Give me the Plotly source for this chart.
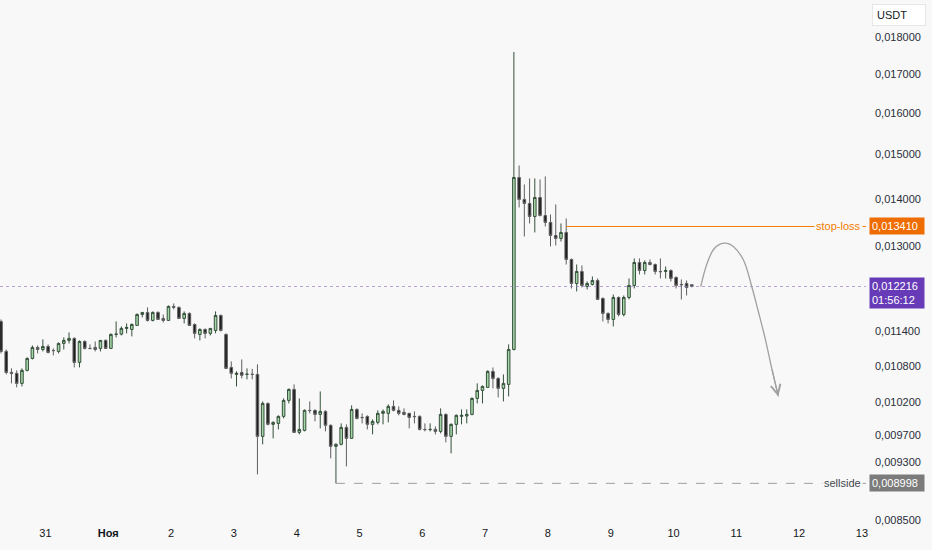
import math
import pandas as pd
import plotly.graph_objects as go

# 2h candles (USDT)
opens = [0.011571, 0.011044, 0.010690, 0.010674, 0.010509, 0.010724, 0.010925, 0.011113, 0.011078, 0.011130,
         0.011061, 0.011044, 0.011182, 0.011235, 0.011270, 0.010857, 0.011217, 0.011096, 0.011113, 0.011096,
         0.011235, 0.011096, 0.011340, 0.011345, 0.011446, 0.011428, 0.011499, 0.011697, 0.011734, 0.011589,
         0.011734, 0.011625, 0.011589, 0.011844, 0.011826, 0.011625, 0.011716, 0.011517, 0.011340, 0.011428,
         0.011358, 0.011410, 0.011679, 0.011340, 0.010773, 0.010657, 0.010690, 0.010657, 0.010660, 0.010657,
         0.009679, 0.010187, 0.009861, 0.009876, 0.009984, 0.010235, 0.010411, 0.009739, 0.009769, 0.010078,
         0.010078, 0.010015, 0.010062, 0.009846, 0.009530, 0.009560, 0.009815, 0.009649, 0.010093, 0.009968,
         0.009984, 0.009861, 0.009892, 0.010031, 0.010031, 0.010140, 0.010078, 0.010047, 0.010031, 0.009984,
         0.009984, 0.009784, 0.009781, 0.009784, 0.009754, 0.010015, 0.009679, 0.009861, 0.009984, 0.009990,
         0.010015, 0.010267, 0.010395, 0.010444, 0.010707, 0.010591, 0.010428, 0.010493, 0.011078, 0.014471,
         0.013985, 0.013898, 0.013620, 0.014028, 0.013641, 0.013494, 0.013224, 0.013163, 0.013286, 0.012740,
         0.012274, 0.012505, 0.012217, 0.012255, 0.012331, 0.011992, 0.011716, 0.011607, 0.012010, 0.011697,
         0.012010, 0.012236, 0.012681, 0.012524, 0.012681, 0.012641, 0.012505, 0.012505, 0.012524, 0.012389,
         0.012255, 0.012274, 0.012250]
highs = [0.011607, 0.011078, 0.010757, 0.010724, 0.010757, 0.010942, 0.011147, 0.011147, 0.011252, 0.011165,
         0.011096, 0.011200, 0.011287, 0.011375, 0.011287, 0.011235, 0.011235, 0.011165, 0.011217, 0.011240,
         0.011252, 0.011358, 0.011571, 0.011481, 0.011535, 0.011535, 0.011716, 0.011740, 0.011826, 0.011752,
         0.011752, 0.011697, 0.011862, 0.011899, 0.011844, 0.011752, 0.011734, 0.011535, 0.011446, 0.011446,
         0.011450, 0.011752, 0.011697, 0.011358, 0.010874, 0.010707, 0.010908, 0.010757, 0.010750, 0.010824,
         0.010219, 0.010203, 0.009907, 0.010000, 0.010267, 0.010428, 0.010493, 0.010267, 0.010093, 0.010219,
         0.010093, 0.010379, 0.010078, 0.009861, 0.009575, 0.009876, 0.009861, 0.010156, 0.010109, 0.010031,
         0.010000, 0.009938, 0.010078, 0.010093, 0.010172, 0.010235, 0.010140, 0.010109, 0.010040, 0.010062,
         0.010000, 0.009876, 0.009876, 0.009830, 0.010109, 0.010031, 0.009876, 0.010015, 0.010093, 0.010093,
         0.010283, 0.010509, 0.010477, 0.010724, 0.010773, 0.010608, 0.010657, 0.011165, 0.017585, 0.014743,
         0.014314, 0.014448, 0.014448, 0.014426, 0.014493, 0.013662, 0.013876, 0.013473, 0.013578, 0.012760,
         0.012641, 0.012622, 0.012312, 0.012408, 0.012370, 0.012010, 0.011734, 0.012066, 0.012029, 0.012047,
         0.012370, 0.012760, 0.012760, 0.012721, 0.012740, 0.012661, 0.012760, 0.012602, 0.012544, 0.012408,
         0.012351, 0.012331, 0.012260]
lows = [0.011010, 0.010657, 0.010509, 0.010444, 0.010460, 0.010707, 0.010908, 0.011010, 0.011044, 0.011010,
        0.010976, 0.011010, 0.011078, 0.011182, 0.010773, 0.010773, 0.011078, 0.011078, 0.011044, 0.011044,
        0.011087, 0.011087, 0.011287, 0.011322, 0.011358, 0.011305, 0.011499, 0.011643, 0.011571, 0.011571,
        0.011598, 0.011553, 0.011585, 0.011789, 0.011616, 0.011535, 0.011490, 0.011270, 0.011235, 0.011270,
        0.011322, 0.011358, 0.011393, 0.010752, 0.010591, 0.010460, 0.010591, 0.010575, 0.010575, 0.009124,
        0.009560, 0.009846, 0.009649, 0.009784, 0.009953, 0.010187, 0.009735, 0.009709, 0.009754, 0.010031,
        0.009907, 0.009800, 0.009754, 0.009354, 0.008998, 0.009545, 0.009238, 0.009642, 0.009938, 0.009876,
        0.009784, 0.009709, 0.009861, 0.009861, 0.009892, 0.010062, 0.010000, 0.010000, 0.009800, 0.009876,
        0.009769, 0.009754, 0.009754, 0.009709, 0.009724, 0.009589, 0.009427, 0.009709, 0.009861, 0.009876,
        0.010000, 0.010187, 0.010187, 0.010440, 0.010428, 0.010283, 0.010219, 0.010299, 0.011061, 0.013812,
        0.013204, 0.013473, 0.013286, 0.013620, 0.013410, 0.013000, 0.013020, 0.013101, 0.012641, 0.012179,
        0.012123, 0.012198, 0.012160, 0.012236, 0.011964, 0.011571, 0.011535, 0.011481, 0.011661, 0.011661,
        0.011973, 0.012179, 0.012447, 0.012447, 0.012622, 0.012447, 0.012370, 0.012370, 0.012312, 0.012179,
        0.011973, 0.012047, 0.012200]
closes = [0.011044, 0.010690, 0.010674, 0.010509, 0.010724, 0.010925, 0.011113, 0.011078, 0.011130, 0.011027,
          0.011058, 0.011182, 0.011235, 0.011270, 0.010857, 0.011217, 0.011096, 0.011094, 0.011078, 0.011235,
          0.011096, 0.011340, 0.011345, 0.011446, 0.011463, 0.011517, 0.011697, 0.011734, 0.011589, 0.011734,
          0.011607, 0.011589, 0.011844, 0.011826, 0.011625, 0.011716, 0.011499, 0.011358, 0.011428, 0.011358,
          0.011446, 0.011679, 0.011410, 0.010757, 0.010674, 0.010674, 0.010641, 0.010660, 0.010657, 0.009679,
          0.010187, 0.009861, 0.009892, 0.009984, 0.010235, 0.010411, 0.009739, 0.009784, 0.010078, 0.010075,
          0.010015, 0.010062, 0.009846, 0.009530, 0.009560, 0.009815, 0.009649, 0.010093, 0.009953, 0.009965,
          0.009861, 0.009907, 0.010031, 0.010062, 0.010140, 0.010078, 0.010031, 0.010015, 0.009968, 0.009980,
          0.009784, 0.009781, 0.009784, 0.009754, 0.010015, 0.009679, 0.009861, 0.010000, 0.010000, 0.010015,
          0.010267, 0.010395, 0.010460, 0.010707, 0.010591, 0.010428, 0.010509, 0.011078, 0.014471, 0.013985,
          0.013898, 0.013620, 0.014028, 0.013641, 0.013494, 0.013224, 0.013163, 0.013286, 0.012740, 0.012274,
          0.012505, 0.012236, 0.012274, 0.012331, 0.011973, 0.011716, 0.011607, 0.012010, 0.011697, 0.012010,
          0.012236, 0.012681, 0.012524, 0.012681, 0.012641, 0.012505, 0.012500, 0.012524, 0.012370, 0.012236,
          0.012250, 0.012198, 0.012216]

times = pd.date_range("2024-10-30 07:00", periods=len(opens), freq="2h")

# levels
stop_loss = 0.013410
last_price = 0.012216
countdown = "01:56:12"
sellside = 0.008998
stop_idx = 108
sell_idx = 64

# hand drawn projection
proj_times = ["2024-11-10 10:24", "2024-11-10 12:40", "2024-11-10 15:13", "2024-11-10 17:46",
              "2024-11-10 20:04", "2024-11-10 22:51", "2024-11-11 02:41", "2024-11-11 05:54",
              "2024-11-11 08:25", "2024-11-11 11:00", "2024-11-11 13:32", "2024-11-11 16:03"]
proj_prices = [0.012216, 0.012636, 0.012934, 0.013047, 0.013067, 0.013000, 0.012734, 0.012217,
               0.011751, 0.011274, 0.010761, 0.010298]

day_ticks = pd.date_range("2024-10-31", "2024-11-13", freq="D")
day_labels = ["31", "<b>Ноя</b>", "2", "3", "4", "5", "6", "7", "8", "9", "10", "11", "12", "13"]

price_ticks = [0.0180, 0.0170, 0.0160, 0.0150, 0.0140, 0.0130, 0.0114, 0.0108,
               0.0102, 0.0097, 0.0093, 0.0085]

def fmt(v):
    return f"{v:.6f}".replace(".", ",")

x_range = ["2024-10-30 06:37", "2024-11-13 01:34"]
y_lo, y_hi = 0.008434, 0.019064
BG = "#f8f8f8"
FONT = "Liberation Sans"

fig = go.Figure()

fig.add_trace(go.Candlestick(
    x=times, open=opens, high=highs, low=lows, close=closes,
    increasing=dict(line=dict(color="#35503b", width=1), fillcolor="#a5d6a7"),
    decreasing=dict(line=dict(color="#5f5f5f", width=1), fillcolor="#1e1e1e"),
    whiskerwidth=0, showlegend=False,
))

# current price (dotted lavender, full width)
fig.add_trace(go.Scatter(
    x=x_range, y=[last_price, last_price], mode="lines",
    line=dict(color="rgba(149,117,205,0.65)", width=1, dash="dot"),
    showlegend=False, hoverinfo="skip",
))

# stop-loss
fig.add_trace(go.Scatter(
    x=[times[stop_idx], x_range[1]], y=[stop_loss, stop_loss], mode="lines",
    line=dict(color="#f57c00", width=1), showlegend=False, hoverinfo="skip",
))

# sellside
fig.add_trace(go.Scatter(
    x=[times[sell_idx], x_range[1]], y=[sellside, sellside], mode="lines",
    line=dict(color="#9e9e9e", width=1, dash="dash"), showlegend=False, hoverinfo="skip",
))

# projection curve
fig.add_trace(go.Scatter(
    x=proj_times, y=proj_prices, mode="lines",
    line=dict(color="#a0a0a0", width=1.3, shape="spline", smoothing=1.0),
    showlegend=False, hoverinfo="skip",
))

fig.add_annotation(
    x=proj_times[-1], y=math.log10(proj_prices[-1]),
    ax=proj_times[-2], ay=math.log10(proj_prices[-2]),
    xref="x", yref="y", axref="x", ayref="y",
    text="", showarrow=True, arrowhead=5, arrowsize=1.6, arrowwidth=1.2,
    arrowcolor="#a0a0a0", standoff=0,
)

# right-side price labels
def price_box(value, text, bg, yshift=0):
    fig.add_annotation(
        x=1, xref="paper", xanchor="left", xshift=3,
        y=math.log10(value), yref="y", yshift=yshift,
        text=text, showarrow=False, align="left",
        font=dict(family=FONT, size=11, color="white"),
        bgcolor=bg, borderpad=2, width=50,
    )

price_box(stop_loss, fmt(stop_loss), "#ef6c00")
price_box(last_price, fmt(last_price) + "<br>" + countdown, "#673ab7", yshift=-6)
price_box(sellside, fmt(sellside), "#7b7b7b")

fig.add_annotation(
    x=1, xref="paper", xanchor="right", xshift=-3,
    y=math.log10(stop_loss), yref="y",
    text="stop-loss", showarrow=False, bgcolor=BG, borderpad=1,
    font=dict(family=FONT, size=11, color="#f57c00"),
)
fig.add_annotation(
    x=1, xref="paper", xanchor="right", xshift=-3,
    y=math.log10(sellside), yref="y",
    text="sellside", showarrow=False, bgcolor=BG, borderpad=1,
    font=dict(family=FONT, size=11, color="#434651"),
)

fig.add_annotation(
    x=1, xref="paper", xanchor="left", xshift=6,
    y=1, yref="paper", yanchor="top", yshift=-4,
    text="USDT", showarrow=False, align="left", width=44,
    font=dict(family=FONT, size=11, color="#131722"),
    bgcolor="white", bordercolor="#e6e6e6", borderwidth=1, borderpad=4,
)

fig.update_layout(
    width=932, height=550,
    margin=dict(l=0, r=66, t=0, b=25),
    paper_bgcolor=BG, plot_bgcolor=BG,
    font=dict(family=FONT, size=11, color="#131722"),
    xaxis=dict(
        type="date", range=x_range, rangeslider=dict(visible=False),
        tickvals=day_ticks, ticktext=day_labels, ticks="",
        showgrid=False, zeroline=False, showline=False,
        tickfont=dict(size=11, color="#131722"),
    ),
    yaxis=dict(
        type="log", side="right", range=[math.log10(y_lo), math.log10(y_hi)],
        tickvals=price_ticks, ticktext=[fmt(v) for v in price_ticks], ticks="",
        showgrid=False, zeroline=False, showline=False, ticklabelstandoff=8,
        tickfont=dict(size=11, color="#2a2e39"),
    ),
    hovermode=False,
)

# drop the default page margin so the figure sits at the window's corner
fig.write_html("out.html", config={"displayModeBar": False},
               post_script="document.body.style.margin='0';")
